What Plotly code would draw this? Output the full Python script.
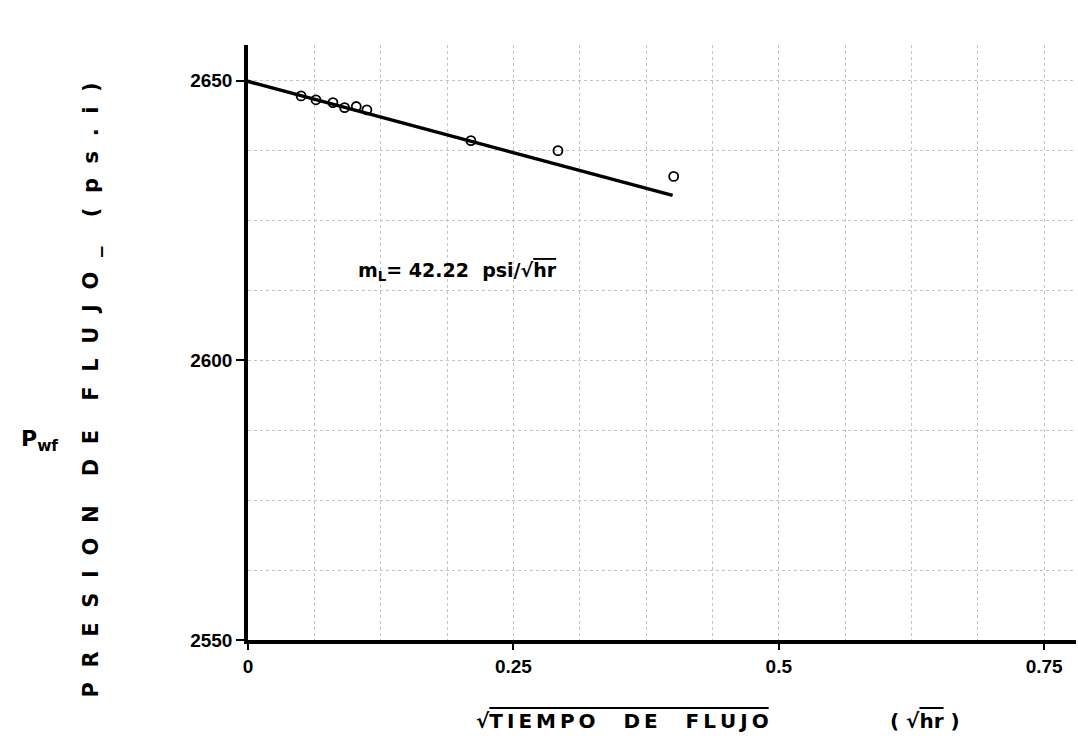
import plotly.graph_objects as go

# data
t_sqrt = [0.050, 0.064, 0.080, 0.091, 0.102, 0.112, 0.210, 0.292, 0.401]
pwf = [2647.3, 2646.6, 2646.1, 2645.2, 2645.4, 2644.8, 2639.3, 2637.5, 2632.9]
line_x = [-0.014, 0.400]
line_y = [2650.6, 2629.5]
x_ticks = [0, 0.25, 0.5, 0.75]
x_ticktext = ["0", "0.25", "0.5", "0.75"]
y_ticks = [2550, 2600, 2650]
y_ticktext = ["2550", "2600", "2650"]

FONT = "DejaVu Sans"
TICKFONT = "Liberation Sans"
OVER = "<span style='text-decoration:overline'>"
TS = "\u2009"


def spaced(word):
    return TS.join(word)


fig = go.Figure()
fig.add_trace(go.Scatter(x=line_x, y=line_y, mode="lines",
                         line=dict(color="black", width=3.5), cliponaxis=False,
                         showlegend=False))
fig.add_trace(go.Scatter(x=t_sqrt, y=pwf, mode="markers",
                         marker=dict(symbol="circle-open", size=9, color="black",
                                     line=dict(width=1.8)),
                         cliponaxis=False, showlegend=False))

fig.update_layout(
    width=1078, height=752,
    margin=dict(l=248, r=2, t=45, b=112),
    paper_bgcolor="white", plot_bgcolor="white",
    font=dict(family=FONT, color="black"),
    xaxis=dict(range=[0, 0.78], tickvals=x_ticks, ticktext=x_ticktext,
               showline=True, linecolor="black", linewidth=3.5,
               ticks="outside", ticklen=6, tickwidth=2, tickcolor="black",
               tickfont=dict(size=19, family=TICKFONT, weight="bold"),
               showgrid=False, zeroline=False,
               minor=dict(dtick=0.0625, tick0=0, showgrid=True,
                          gridcolor="#c4c4c4", griddash="dot", gridwidth=1, ticks="")),
    yaxis=dict(range=[2550, 2656.4], tickvals=y_ticks, ticktext=y_ticktext,
               showline=True, linecolor="black", linewidth=3.5,
               ticks="outside", ticklen=8, tickwidth=2, tickcolor="black",
               tickfont=dict(size=19, family=TICKFONT, weight="bold"),
               ticklabelstandoff=0,
               showgrid=False, zeroline=False,
               minor=dict(dtick=12.5, tick0=2550, showgrid=True,
                          gridcolor="#c4c4c4", griddash="dot", gridwidth=1, ticks="")),
)

fig.add_annotation(x=0.197, y=2615.9, xref="x", yref="y",
                   text="m<sub>L</sub>= 42.22  psi/√" + OVER + "hr</span>",
                   showarrow=False, font=dict(size=19, family=FONT, weight="bold"))
fig.add_annotation(x=-0.206, y=0.42, xref="paper", yref="paper",
                   text="P  R  E  S  I  O  N    D  E    F  L  U  J  O  _    (  p  s  .  i  )",
                   textangle=-90, showarrow=False,
                   font=dict(size=21, family=FONT, weight="bold"))
fig.add_annotation(x=-0.252, y=0.335, xref="paper", yref="paper",
                   text="P<sub>wf</sub>", showarrow=False, xanchor="center",
                   font=dict(size=22, family=FONT, weight="bold"))
fig.add_annotation(x=0.452, y=-0.16, xref="paper", yref="paper",
                   text="√" + OVER + spaced("TIEMPO") + "    " + spaced("DE") + "    "
                   + spaced("FLUJO") + "</span>", showarrow=False,
                   font=dict(size=20, family=FONT, weight="bold"))
fig.add_annotation(x=0.862, y=-0.16, xref="paper", yref="paper",
                   text="( √" + OVER + "hr</span> )", showarrow=False,
                   font=dict(size=20, family=FONT, weight="bold"))

fig.write_html("out.html")
